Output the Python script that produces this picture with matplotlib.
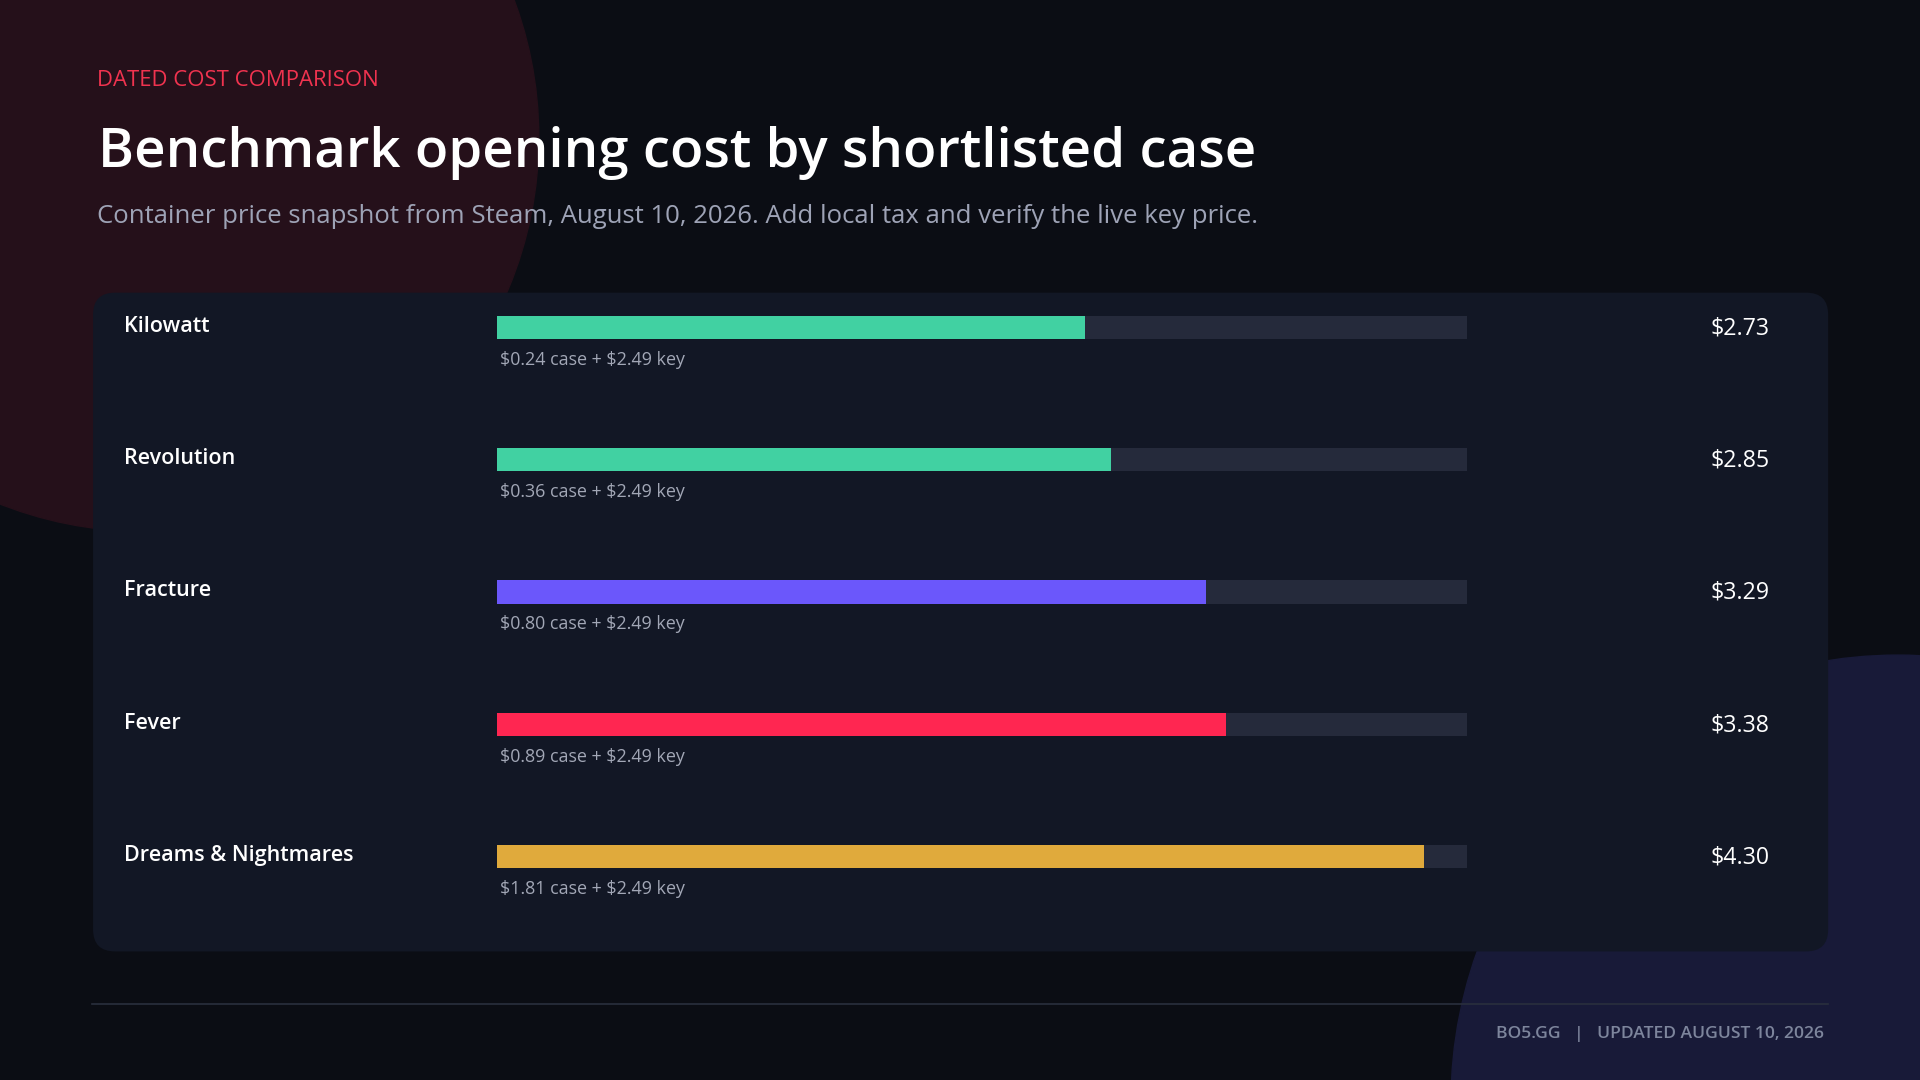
import matplotlib
matplotlib.use('Agg')
import matplotlib.pyplot as plt
from matplotlib.patches import Circle, FancyBboxPatch
from matplotlib.transforms import blended_transform_factory

plt.rcParams['font.family'] = ['Open Sans', 'DejaVu Sans']
plt.rcParams['text.parse_math'] = False

# =======================================================
# Data
cases = ['Kilowatt', 'Revolution', 'Fracture', 'Fever', 'Dreams & Nightmares']
case_price = [0.24, 0.36, 0.80, 0.89, 1.81]
key_price = 2.49
totals = [2.73, 2.85, 3.29, 3.38, 4.30]
bar_colors = ['#41d1a2', '#41d1a2', '#6b57fb', '#ff2651', '#e0aa3c']
scale_max = 4.5

# =======================================================
# Figure and background (bg axes uses a 1568 x 882 layout grid)
W, H = 1568, 882
fig = plt.figure(figsize=(19.2, 10.8), dpi=100)
fig.patch.set_facecolor('#0b0d14')
bg = fig.add_axes([0, 0, 1, 1])
bg.set_xlim(0, W)
bg.set_ylim(H, 0)
bg.axis('off')

bg.add_patch(Circle((118, 112), 322, color='#25101a', zorder=0))
bg.add_patch(Circle((1550, 900), 365, color='#181a38', zorder=0))

panel = FancyBboxPatch((76, 239), 1493 - 76, 777 - 239,
                       boxstyle='round,pad=0,rounding_size=18',
                       facecolor='#121725', edgecolor='none', zorder=1)
bg.add_patch(panel)

bg.text(79, 70, 'DATED COST COMPARISON', color='#f0334f', fontsize=15.9,
        va='baseline', ha='left')
bg.text(80, 136, 'Benchmark opening cost by shortlisted case', color='#ffffff',
        fontsize=39.3, fontweight='semibold', va='baseline', ha='left')
bg.text(79, 182, 'Container price snapshot from Steam, August 10, 2026. '
        'Add local tax and verify the live key price.',
        color='#9ea3b6', fontsize=18.5, va='baseline', ha='left')

bg.plot([75, 1493], [820, 820], color='#2a2f3d', lw=1.2, zorder=2)
bg.text(1490, 848, 'BO5.GG   |   UPDATED AUGUST 10, 2026', color='#7d859c',
        fontsize=12.6, fontweight='semibold', va='baseline', ha='right')

# =======================================================
# Bars
bar_left, bar_right = 406, 1198
top, bottom = 213.5, 753.5
ax = fig.add_axes([bar_left / W, 1 - bottom / H,
                   (bar_right - bar_left) / W, (bottom - top) / H])
ax.set_xlim(0, scale_max)
ax.set_ylim(len(cases) - 0.5, -0.5)
ax.axis('off')

rows = list(range(len(cases)))
ax.barh(rows, [scale_max] * len(cases), height=0.176, color='#252a3b', zorder=1)
ax.barh(rows, totals, height=0.176, color=bar_colors, zorder=2)

tr = blended_transform_factory(bg.transData, ax.transData)
for i, name in enumerate(cases):
    ax.text(101, i + 0.032, name, transform=tr, color='#ffffff', fontsize=15.5,
            fontweight='semibold', va='baseline', ha='left', clip_on=False)
    ax.text(1445, i + 0.051, '$%.2f' % totals[i], transform=tr, color='#ffffff',
            fontsize=16.7, va='baseline', ha='right', clip_on=False)
    ax.text(408, i + 0.282, '$%.2f case + $%.2f key' % (case_price[i], key_price),
            transform=tr, color='#a2a7b6', fontsize=12.9, va='baseline', ha='left',
            clip_on=False)

fig.savefig('out.png', dpi=100, facecolor=fig.get_facecolor())
